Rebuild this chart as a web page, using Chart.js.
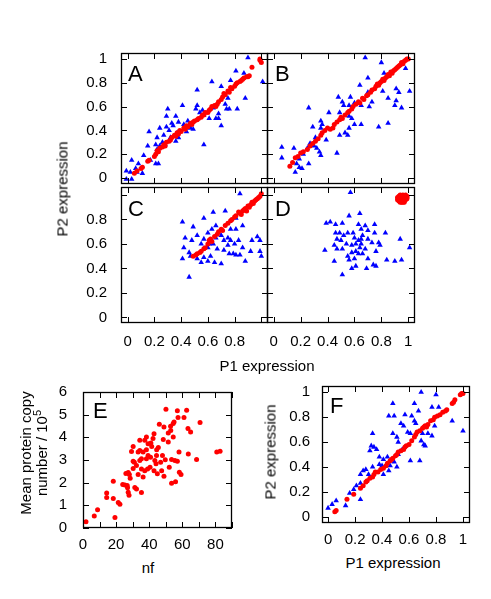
<!DOCTYPE html>
<html>
<head>
<meta charset="utf-8">
<script src="https://cdn.jsdelivr.net/npm/chart.js@4.4.0/dist/chart.umd.min.js"></script>
<style>
body { margin: 0; background: #fff; }
#fig { position: relative; width: 491px; height: 599px; overflow: hidden; background: #fff;
       font-family: "Liberation Sans", Arial, sans-serif; font-size: 15px; color: #000; }
#fig canvas { position: absolute; }
.lbl { position: absolute; white-space: nowrap; line-height: 1; transform: translate(-50%, -50%); }
.rot { transform: translate(-50%, -50%) rotate(-90deg); }
.lbl sup { font-size: 11px; line-height: 0; vertical-align: 6px; }
</style>
</head>
<body>
<div id="fig">
    <canvas id="pA"></canvas>
    <canvas id="pB"></canvas>
    <canvas id="pC"></canvas>
    <canvas id="pD"></canvas>
    <canvas id="pE"></canvas>
    <canvas id="pF"></canvas>
    <div class="lbl rot" style="left:62px;top:189px">P2 expression</div>
    <div class="lbl" style="left:267px;top:365px">P1 expression</div>
    <div class="lbl rot" style="left:25px;top:453px">Mean protein copy</div>
    <div class="lbl rot" style="left:41px;top:453px">number / 10<sup>5</sup></div>
    <div class="lbl" style="left:148px;top:567px">nf</div>
    <div class="lbl rot" style="left:270px;top:452px">P2 expression</div>
    <div class="lbl" style="left:393px;top:562px">P1 expression</div>
</div>
<script>
// tick positions
const unitTicks = [0, 0.2, 0.4, 0.6, 0.8, 1];
const nfTicks = [0, 10, 20, 30, 40, 50, 60, 70, 80, 90];
const nfLabels = [0, 20, 40, 60, 80];
const copyTicks = [0, 1, 2, 3, 4, 5, 6];

// [P1, P2] per punto
const aRed = [[0.05,0.04],[0.07,0.06],[0.10,0.08],[0.11,0.09],[0.15,0.14],[0.16,0.15],[0.20,0.18],[0.21,0.20],[0.22,0.23],[0.23,0.22],
    [0.24,0.25],[0.26,0.26],[0.27,0.28],[0.28,0.27],[0.29,0.30],[0.31,0.31],[0.32,0.32],[0.33,0.34],[0.35,0.36],[0.36,0.35],
    [0.37,0.38],[0.38,0.37],[0.39,0.40],[0.40,0.39],[0.42,0.42],[0.43,0.41],[0.44,0.44],[0.45,0.43],[0.47,0.46],[0.48,0.45],
    [0.49,0.47],[0.50,0.48],[0.52,0.49],[0.53,0.50],[0.55,0.51],[0.56,0.53],[0.57,0.53],[0.58,0.55],[0.60,0.55],[0.61,0.57],
    [0.62,0.58],[0.63,0.60],[0.65,0.61],[0.66,0.60],[0.67,0.62],[0.68,0.64],[0.70,0.66],[0.71,0.68],[0.72,0.71],[0.73,0.70],
    [0.75,0.73],[0.76,0.72],[0.77,0.76],[0.78,0.75],[0.80,0.77],[0.81,0.79],[0.82,0.80],[0.84,0.81],[0.85,0.82],[0.86,0.83],
    [0.87,0.84],[0.89,0.85],[0.90,0.85],[0.91,0.86],[0.93,0.93],[0.99,0.99],[1.00,0.97],[0.99,1.00]];
const aBlue = [[0.90,1.01],[1.01,0.81],[0.81,0.90],[0.87,0.88],[0.63,0.81],[0.52,0.74],[0.70,0.77],[0.77,0.82],[0.75,0.67],[0.88,0.67],
    [0.74,0.58],[0.76,0.58],[0.82,0.58],[0.66,0.50],[0.68,0.50],[0.70,0.44],[0.61,0.50],[0.57,0.53],[0.56,0.57],[0.51,0.58],
    [0.52,0.61],[0.41,0.61],[0.30,0.58],[0.29,0.52],[0.36,0.52],[0.33,0.46],[0.29,0.43],[0.24,0.42],[0.16,0.39],[0.22,0.34],
    [0.27,0.36],[0.21,0.28],[0.22,0.24],[0.24,0.27],[0.15,0.27],[0.12,0.19],[0.17,0.15],[0.21,0.12],[0.23,0.12],[0.03,0.15],
    [0.08,0.12],[-0.01,0.06],[0.02,0.05],[0.06,0.08],[-0.01,-0.01],[0.03,-0.01],[0.07,0.05],[0.11,0.04],[0.42,0.45],[0.43,0.42],
    [0.44,0.43],[0.46,0.45],[0.47,0.42],[0.49,0.41],[0.44,0.39],[0.37,0.38],[0.38,0.34],[0.36,0.31],[0.32,0.34],[0.57,0.28],
    [0.26,0.30],[0.28,0.28],[0.34,0.44],[0.38,0.47],[0.31,0.40],[0.45,0.48],[0.54,0.55],[0.64,0.59],[0.68,0.54],[0.73,0.62]];

const bRed = [[0.12,0.10],[0.14,0.13],[0.16,0.17],[0.18,0.18],[0.20,0.21],[0.22,0.22],[0.25,0.24],[0.27,0.27],[0.29,0.29],[0.31,0.31],
    [0.33,0.33],[0.35,0.36],[0.36,0.38],[0.38,0.40],[0.40,0.42],[0.42,0.41],[0.44,0.42],[0.45,0.45],[0.47,0.47],[0.49,0.49],
    [0.50,0.51],[0.51,0.50],[0.53,0.53],[0.55,0.55],[0.56,0.56],[0.58,0.58],[0.59,0.60],[0.61,0.62],[0.63,0.64],[0.64,0.63],
    [0.66,0.67],[0.67,0.66],[0.69,0.69],[0.70,0.70],[0.72,0.72],[0.73,0.74],[0.75,0.75],[0.76,0.77],[0.78,0.78],[0.79,0.80],
    [0.80,0.81],[0.81,0.83],[0.83,0.84],[0.84,0.85],[0.85,0.87],[0.86,0.86],[0.88,0.88],[0.89,0.90],[0.90,0.91],[0.91,0.92],
    [0.92,0.93],[0.93,0.94],[0.94,0.95],[0.95,0.97],[0.96,0.96],[0.97,0.98],[0.98,0.99],[0.99,1.00],[1.00,1.00],[0.87,0.89],
    [0.82,0.82],[0.77,0.79]];
const bBlue = [[0.68,1.01],[0.80,0.97],[0.98,0.92],[0.82,0.88],[0.70,0.84],[0.64,0.78],[0.70,0.72],[0.81,0.73],[0.91,0.75],[0.93,0.72],
    [1.01,0.73],[0.85,0.67],[0.91,0.65],[0.90,0.61],[0.95,0.59],[0.73,0.64],[0.71,0.60],[0.65,0.61],[0.57,0.68],[0.48,0.68],
    [0.51,0.64],[0.52,0.61],[0.56,0.61],[0.60,0.63],[0.26,0.59],[0.41,0.55],[0.49,0.55],[0.56,0.52],[0.58,0.50],[0.65,0.45],
    [0.60,0.45],[0.56,0.42],[0.53,0.38],[0.49,0.36],[0.55,0.36],[0.78,0.43],[0.85,0.46],[0.47,0.21],[0.35,0.48],[0.36,0.45],
    [0.29,0.43],[0.35,0.42],[0.31,0.34],[0.39,0.32],[0.27,0.29],[0.30,0.27],[0.25,0.25],[0.32,0.25],[0.34,0.22],[0.35,0.19],
    [0.22,0.20],[0.15,0.25],[0.06,0.26],[0.06,0.17],[0.19,0.16],[0.17,0.12],[0.19,0.09],[0.21,0.08],[0.16,0.05],[0.26,0.12]];

const cRed = [[0.49,0.50],[0.51,0.51],[0.52,0.52],[0.54,0.53],[0.55,0.54],[0.57,0.56],[0.58,0.57],[0.60,0.60],[0.61,0.63],[0.62,0.64],
    [0.63,0.62],[0.65,0.66],[0.67,0.68],[0.68,0.70],[0.70,0.72],[0.71,0.71],[0.73,0.75],[0.75,0.77],[0.77,0.79],[0.78,0.80],
    [0.80,0.82],[0.81,0.83],[0.83,0.86],[0.84,0.85],[0.86,0.87],[0.87,0.88],[0.88,0.89],[0.90,0.91],[0.91,0.90],[0.92,0.92],
    [0.93,0.94],[0.94,0.93],[0.95,0.95],[0.96,0.96],[0.97,0.97],[0.98,0.98],[0.99,0.99],[1.00,1.01],[0.89,0.87],[0.85,0.84]];
const cBlue = [[0.41,0.78],[0.49,0.74],[0.57,0.81],[0.64,0.86],[0.73,0.87],[0.84,1.01],[0.86,0.75],[0.81,0.81],[0.43,0.65],[0.48,0.63],
    [0.52,0.67],[0.57,0.64],[0.60,0.69],[0.63,0.72],[0.66,0.75],[0.68,0.69],[0.70,0.67],[0.72,0.63],[0.75,0.65],[0.77,0.63],
    [0.80,0.60],[0.83,0.63],[0.86,0.57],[0.93,0.63],[0.99,0.63],[0.97,0.66],[0.92,0.54],[0.99,0.54],[1.00,0.50],[0.42,0.57],
    [0.46,0.53],[0.47,0.50],[0.41,0.48],[0.46,0.33],[0.57,0.49],[0.60,0.46],[0.62,0.50],[0.65,0.45],[0.70,0.44],[0.67,0.56],
    [0.72,0.55],[0.75,0.59],[0.76,0.52],[0.79,0.52],[0.81,0.51],[0.84,0.51],[0.88,0.46],[0.60,0.57],[0.61,0.60],[0.64,0.60],
    [0.66,0.65],[0.55,0.60],[0.52,0.48],[0.55,0.45],[0.81,0.72],[0.77,0.72]];

const dRed = [[0.92,0.96],[0.93,0.95],[0.93,0.97],[0.94,0.94],[0.94,0.96],[0.94,0.98],[0.95,0.95],[0.95,0.97],[0.95,0.99],[0.96,0.94],
    [0.96,0.96],[0.96,0.98],[0.97,0.95],[0.97,0.97],[0.97,0.99],[0.98,0.96],[0.98,0.98],[0.98,1.00],[0.99,0.97],[0.99,0.99],
    [0.93,0.99],[0.96,1.00],[0.95,0.94],[0.97,0.94],[0.92,0.98],[0.99,0.98],[0.94,1.00]];
const dBlue = [[0.57,1.02],[0.42,0.78],[0.39,0.77],[0.46,0.76],[0.51,0.77],[0.56,0.83],[0.64,0.85],[0.63,0.76],[0.68,0.75],[0.75,0.76],
    [0.83,0.69],[0.75,0.69],[0.94,0.64],[1.01,0.57],[0.95,0.47],[0.90,0.46],[0.84,0.47],[0.76,0.42],[0.74,0.43],[0.69,0.40],
    [0.61,0.42],[0.58,0.40],[0.51,0.35],[0.45,0.46],[0.38,0.55],[0.45,0.59],[0.47,0.56],[0.50,0.63],[0.52,0.67],[0.55,0.69],
    [0.59,0.69],[0.60,0.65],[0.63,0.63],[0.65,0.64],[0.66,0.67],[0.70,0.64],[0.73,0.61],[0.78,0.61],[0.79,0.59],[0.76,0.54],
    [0.65,0.60],[0.64,0.57],[0.61,0.54],[0.58,0.53],[0.55,0.50],[0.56,0.47],[0.60,0.48],[0.63,0.52],[0.66,0.52],[0.68,0.56],
    [0.54,0.60],[0.51,0.56],[0.49,0.69],[0.46,0.69],[0.58,0.59],[0.61,0.60],[0.65,0.72],[0.70,0.71],[0.47,0.64],[0.70,0.48]];

// [nf, copie / 1e5]
const eCopy = [[1.8,0.28],[6.8,0.53],[8.8,0.80],[19.3,0.46],[18.3,1.30],[14.3,1.54],[14.3,1.35],[21.3,1.13],[22.3,1.05],[18.3,2.06],
    [24.0,1.92],[25.3,1.90],[26.7,1.87],[26.9,1.78],[27.3,1.58],[27.8,1.45],[31.3,1.79],[32.3,1.72],[35.3,1.57],[25.9,2.40],
    [27.3,2.45],[28.0,2.36],[30.3,2.62],[30.3,2.95],[29.3,3.38],[30.3,3.60],[33.3,3.35],[32.3,2.76],[34.3,2.98],[35.3,2.60],
    [33.3,2.36],[36.3,2.25],[37.3,2.53],[35.3,3.05],[38.3,3.05],[36.3,3.35],[38.3,3.45],[39.3,3.20],[39.3,3.72],[37.3,3.87],
    [34.3,3.87],[34.3,3.42],[38.3,4.01],[39.0,2.60],[31.0,2.90],[28.5,2.20],
    [50.1,5.24],[57.0,5.17],[62.6,5.20],[57.4,4.88],[61.0,4.88],[70.7,4.65],[46.1,4.58],[48.9,4.46],[52.9,4.49],[54.5,4.61],
    [55.0,4.68],[42.9,4.16],[51.5,4.19],[53.0,4.30],[54.5,4.01],[63.4,4.39],[65.0,4.24],[48.5,3.90],[51.5,3.79],[41.0,3.75],
    [42.3,3.95],[41.5,3.60],[58.0,3.35],[63.6,3.27],[68.6,3.02],[40.8,3.12],[44.4,3.20],[48.0,3.20],[49.7,3.01],[53.5,3.02],
    [55.5,2.98],[57.0,2.95],[46.9,2.90],[44.1,2.83],[52.1,2.68],[40.5,2.68],[42.9,2.53],[44.9,2.39],[47.5,2.53],[48.9,2.28],
    [58.2,2.46],[59.2,2.36],[53.5,1.97],[55.9,2.04],[80.8,3.35],[82.8,3.39],[44.5,3.45],[45.5,3.55],[43.4,2.98]];

const fRed = [[0.05,0.04],[0.06,0.05],[0.14,0.14],[0.19,0.18],[0.24,0.23],[0.26,0.25],[0.28,0.28],[0.29,0.29],[0.31,0.31],[0.33,0.32],
    [0.34,0.34],[0.35,0.36],[0.37,0.36],[0.39,0.38],[0.41,0.39],[0.43,0.41],[0.44,0.43],[0.46,0.45],[0.47,0.46],[0.48,0.47],
    [0.50,0.49],[0.51,0.50],[0.52,0.52],[0.54,0.53],[0.56,0.54],[0.57,0.56],[0.58,0.57],[0.60,0.58],[0.62,0.61],[0.64,0.64],
    [0.65,0.66],[0.66,0.68],[0.68,0.69],[0.70,0.71],[0.71,0.72],[0.72,0.73],[0.73,0.72],[0.74,0.74],[0.76,0.77],[0.78,0.78],
    [0.79,0.80],[0.81,0.81],[0.83,0.82],[0.85,0.84],[0.87,0.85],[0.88,0.86],[0.92,0.91],[0.93,0.92],[0.94,0.94],[0.99,0.99],
    [1.00,0.99],[0.98,0.98]];
const fBlue = [[0.00,0.07],[0.03,0.10],[0.06,0.13],[0.13,0.09],[0.16,0.19],[0.24,0.14],[0.21,0.25],[0.24,0.27],[0.24,0.34],[0.26,0.37],
    [0.28,0.38],[0.30,0.34],[0.33,0.40],[0.33,0.67],[0.32,0.57],[0.34,0.56],[0.36,0.54],[0.31,0.53],[0.38,0.48],[0.41,0.46],
    [0.44,0.48],[0.41,0.34],[0.48,0.91],[0.49,0.81],[0.45,0.81],[0.48,0.67],[0.51,0.64],[0.52,0.60],[0.57,0.82],[0.54,0.75],
    [0.56,0.73],[0.59,0.68],[0.61,0.67],[0.62,0.81],[0.64,0.91],[0.64,0.77],[0.65,0.75],[0.69,1.00],[0.67,0.85],[0.69,0.61],
    [0.71,0.58],[0.72,0.57],[0.68,0.45],[0.61,0.45],[0.70,0.67],[0.74,0.67],[0.77,0.65],[0.77,0.88],[0.80,0.98],[0.82,0.88],
    [0.79,0.73],[0.92,0.77],[1.00,0.69],[0.55,0.54],[0.52,0.50],[0.49,0.44],[0.46,0.41],[0.45,0.37],[0.51,0.40],[0.40,0.41],
    [0.38,0.42],[0.19,0.22]];

Chart.defaults.font.family = '"Liberation Sans", Arial, sans-serif';
Chart.defaults.font.size = 15;
Chart.defaults.color = '#000';

const PAD = 12;
const TICK = 6;

// cornice + tacche interne su tutti e quattro i lati, lettera del pannello
const cornice = {
    id: 'cornice',
    afterDatasetsDraw(chart, args, opts) {
        const { ctx, chartArea: a, scales: { x, y } } = chart;
        ctx.save();
        ctx.strokeStyle = '#000';
        ctx.lineWidth = 1;
        ctx.beginPath();
        x.ticks.forEach(t => {
            const px = Math.round(x.getPixelForValue(t.value)) + 0.5;
            ctx.moveTo(px, a.bottom); ctx.lineTo(px, a.bottom - TICK);
            ctx.moveTo(px, a.top); ctx.lineTo(px, a.top + TICK);
        });
        y.ticks.forEach(t => {
            const py = Math.round(y.getPixelForValue(t.value)) + 0.5;
            ctx.moveTo(a.left, py); ctx.lineTo(a.left + TICK, py);
            ctx.moveTo(a.right, py); ctx.lineTo(a.right - TICK, py);
        });
        ctx.stroke();
        ctx.lineWidth = 1.3;
        ctx.strokeRect(a.left + 0.5, a.top + 0.5, a.width - 1, a.height - 1);
        ctx.font = '22px "Liberation Sans", Arial, sans-serif';
        ctx.fillStyle = '#000';
        ctx.textBaseline = 'alphabetic';
        ctx.fillText(opts.letter, a.left + opts.lx, a.top + opts.ly);
        ctx.restore();
    }
};

function etichetta(nascoste) {
    return v => nascoste.includes(v) ? '' : String(Math.round(v * 10) / 10);
}

function serie(punti, colore, stile, r) {
    return {
        data: punti.map(p => ({ x: p[0], y: p[1] })),
        backgroundColor: colore,
        borderWidth: 0,
        pointStyle: stile,
        pointRadius: r
    };
}

function pannello(id, p) {
    const cv = document.getElementById(id);
    cv.width = PAD + p.yw + p.w + PAD;
    cv.height = PAD + p.h + p.xh;
    cv.style.left = (p.l - p.yw - PAD) + 'px';
    cv.style.top = (p.t - PAD) + 'px';
    return new Chart(cv, {
        type: 'scatter',
        data: { datasets: p.sets },
        options: {
            responsive: false,
            animation: false,
            devicePixelRatio: 1,
            layout: { padding: { left: PAD, top: PAD, right: PAD, bottom: 0 } },
            plugins: {
                legend: { display: false },
                tooltip: { enabled: false },
                cornice: { letter: p.letter, lx: p.lx, ly: p.ly }
            },
            scales: {
                x: {
                    type: 'linear', min: p.xr[0], max: p.xr[1],
                    grid: { display: false, drawTicks: false }, border: { display: false },
                    afterBuildTicks: s => { s.ticks = p.xt.map(v => ({ value: v })); },
                    afterFit: s => { s.height = p.xh; s.paddingLeft = 0; s.paddingRight = 0; },
                    ticks: { display: !!p.xl, padding: p.xpad || 0, autoSkip: false, maxRotation: 0, callback: p.xl || (() => '') }
                },
                y: {
                    type: 'linear', min: p.yr[0], max: p.yr[1],
                    grid: { display: false, drawTicks: false }, border: { display: false },
                    afterBuildTicks: s => { s.ticks = p.yt.map(v => ({ value: v })); },
                    afterFit: s => { s.width = p.yw; s.paddingTop = 0; s.paddingBottom = 0; },
                    ticks: { display: !!p.yl, padding: p.ypad || 0, autoSkip: false, callback: p.yl || (() => '') }
                }
            }
        },
        plugins: [cornice]
    });
}

const ROSSO = '#ff0000', BLU = '#0000ff';
const coppia = (rossi, blu) => [serie(rossi, ROSSO, 'circle', 2.5), serie(blu, BLU, 'triangle', 3.2)];

pannello('pA', { l: 121, t: 53, w: 147, h: 135, yw: 61, xh: 0, xr: [-0.05, 1.05], yr: [-0.05, 1.05],
    xt: unitTicks, yt: unitTicks, yl: etichetta([]), ypad: 14, letter: 'A', lx: 7, ly: 28, sets: coppia(aRed, aBlue) });
pannello('pB', { l: 267, t: 53, w: 148, h: 135, yw: 0, xh: 0, xr: [-0.05, 1.05], yr: [-0.05, 1.05],
    xt: unitTicks, yt: unitTicks, letter: 'B', lx: 8, ly: 28, sets: coppia(bRed, bBlue) });
pannello('pC', { l: 121, t: 187, w: 147, h: 136, yw: 61, xh: 32, xr: [-0.05, 1.05], yr: [-0.045, 1.065],
    xt: unitTicks, yt: unitTicks, xl: etichetta([1]), yl: etichetta([1]), xpad: 10, ypad: 14,
    letter: 'C', lx: 7, ly: 29, sets: coppia(cRed, cBlue) });
pannello('pD', { l: 267, t: 187, w: 148, h: 136, yw: 0, xh: 32, xr: [-0.05, 1.05], yr: [-0.045, 1.065],
    xt: unitTicks, yt: unitTicks, xl: etichetta([]), xpad: 10, letter: 'D', lx: 8, ly: 29, sets: coppia(dRed, dBlue) });
pannello('pE', { l: 83, t: 392, w: 149, h: 136, yw: 50, xh: 30, xr: [0, 90], yr: [0, 6],
    xt: nfTicks, yt: copyTicks, xl: v => nfLabels.includes(v) ? String(v) : '', yl: v => String(v), xpad: 8, ypad: 16,
    letter: 'E', lx: 10, ly: 26, sets: [serie(eCopy, ROSSO, 'circle', 2.5)] });
pannello('pF', { l: 322, t: 386, w: 148, h: 137, yw: 50, xh: 30, xr: [-0.045, 1.052], yr: [-0.05, 1.05],
    xt: unitTicks, yt: unitTicks, xl: etichetta([]), yl: etichetta([]), xpad: 8, ypad: 12,
    letter: 'F', lx: 8, ly: 27, sets: coppia(fRed, fBlue) });
</script>
</body>
</html>
